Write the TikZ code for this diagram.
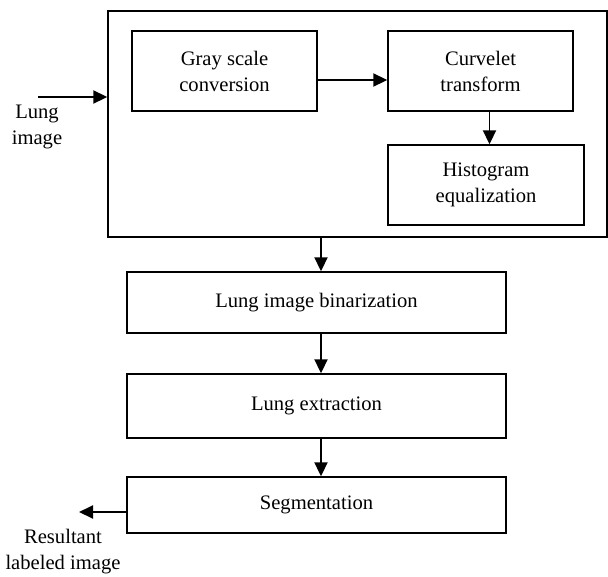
\documentclass[tikz,border=0pt]{standalone}
\usepackage{fontspec}
\setmainfont{Liberation Serif}
\usepackage{tikz}
\usetikzlibrary{positioning,arrows.meta}

\begin{document}
\begin{tikzpicture}[x=1pt,y=-1pt]
\tikzstyle{block}=[rectangle, draw=black, line width=1.4pt, align=center, inner sep=0pt, font=\fontsize{20.6}{26}\selectfont]
\tikzstyle{connect}=[-{Triangle[length=14pt,width=13pt]}, line width=1.9pt]
\tikzstyle{txt}=[align=center, inner sep=0pt, font=\fontsize{20.6}{26}\selectfont]
\useasboundingbox (0,0) rectangle (608,576);

  \node[block, minimum width=499pt, minimum height=226pt] (frame) at (357.5,124) {};
  \node[block, minimum width=185pt, minimum height=80pt] (gray) at (224.5,71) {Gray scale\\conversion};
  \node[block, minimum width=185pt, minimum height=80pt] (curv) at (480.5,71) {Curvelet\\transform};
  \node[block, minimum width=196pt, minimum height=80pt] (hist) at (486,185) {Histogram\\equalization};

  \node[block, minimum width=379pt, minimum height=61pt] (bin) at (316.5,302.5) {Lung image binarization};
  \node[block, minimum width=379pt, minimum height=64pt] (ext) at (316.5,406) {Lung extraction};
  \node[block, minimum width=379pt, minimum height=56pt] (seg) at (316.5,505) {Segmentation};

  \node[txt] (lung) at (37,127) {Lung\\image};
  \node[txt] (res) at (63,552) {Resultant\\labeled image};
  \coordinate (in) at (38,97);
  \coordinate (out) at (79,512);

  \draw[connect] (in) -- (in -| frame.west);
  \draw[connect] ([yshift=-9pt]gray.east) -- ([yshift=-9pt]curv.west);
  \draw[connect] ([xshift=9pt]curv.south) -- ([xshift=9pt]curv.south |- hist.north);
  \draw[connect] ([xshift=4.5pt]bin.north |- frame.south) -- ([xshift=4.5pt]bin.north);
  \draw[connect] ([xshift=4.5pt]bin.south) -- ([xshift=4.5pt]ext.north);
  \draw[connect] ([xshift=4.5pt]ext.south) -- ([xshift=4.5pt]seg.north);
  \draw[connect] (seg.west |- out) -- (out);
\end{tikzpicture}
\end{document}
